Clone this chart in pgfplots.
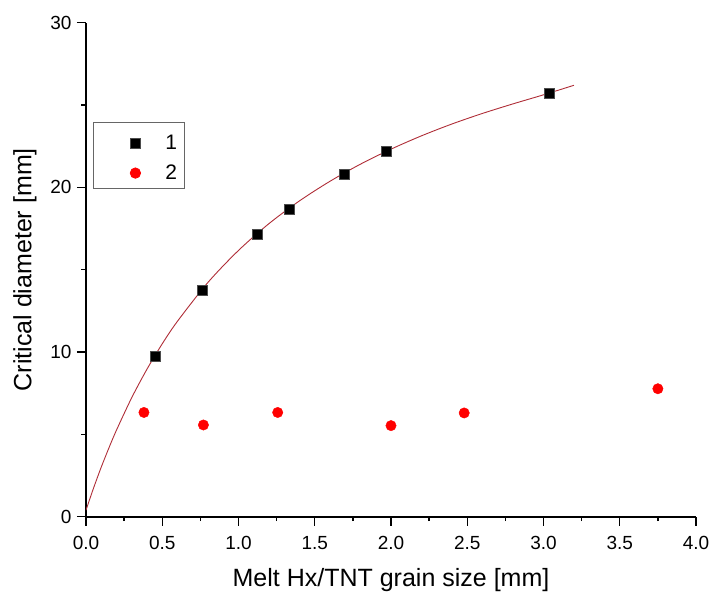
\documentclass[border=0pt]{standalone}
\usepackage{pgfplots}
\pgfplotsset{compat=1.18}
\usepackage{fontspec}
\setmainfont{Liberation Sans}
\definecolor{fitred}{RGB}{175,45,55}
\begin{document}
\begin{tikzpicture}
\begin{axis}[
  scale only axis, width=610pt, height=494pt,
  anchor=origin, at={(0pt,0pt)},
  xmin=0, xmax=4, ymin=0, ymax=30,
  axis lines*=left,
  xtick={0,0.5,1,1.5,2,2.5,3,3.5,4}, minor x tick num=1,
  ytick={0,10,20,30}, minor y tick num=1,
  /pgf/number format/assume math mode=true,
  tick align=outside, major tick length=9pt, minor tick length=4.5pt,
  every tick/.style={black, line width=1.3pt},
  axis line style={line width=1.8pt},
  tick label style={font=\fontsize{19}{22}\selectfont},
  xticklabel style={yshift=-7pt, /pgf/number format/fixed, /pgf/number format/fixed zerofill, /pgf/number format/precision=1},
  yticklabel style={xshift=-2pt},
  label style={font=\fontsize{25}{30}\selectfont},
  xlabel={Melt Hx/TNT grain size [mm]},
  xlabel style={at={(axis description cs:0.5,0)}, anchor=base, yshift=-70pt},
  ylabel={Critical diameter [mm]},
  ylabel style={at={(axis description cs:0,0.5)}, anchor=center, yshift=61pt},
  legend style={at={(rel axis cs:0.0115,0.7996)}, anchor=north west, draw=black!60, line width=0.8pt,
    font=\fontsize{21}{25}\selectfont, inner xsep=0pt, inner ysep=3pt, row sep=0pt,
    nodes={inner xsep=0pt, inner ysep=0pt}},
  legend cell align=left,
  legend image code/.code={\pgfpathrectangle{\pgfpoint{0pt}{-12pt}}{\pgfpoint{72pt}{30pt}}\pgfusepath{use as bounding box}\draw[#1] plot coordinates {(42pt,0pt)};},
]
\addplot[no marks, color=fitred, line width=0.9pt, smooth, forget plot] coordinates {
(0,0.40) (0.05,1.75) (0.1,3.01) (0.15,4.17) (0.2,5.26) (0.3,7.23) (0.4,8.96) (0.5,10.50)
(0.6,11.87) (0.8,14.23) (1.0,16.17) (1.2,17.80) (1.4,19.18) (1.6,20.37) (1.8,21.41)
(2.0,22.32) (2.2,23.13) (2.4,23.85) (2.6,24.49) (2.8,25.07) (3.0,25.62) (3.2,26.20)};
\addplot[only marks, mark=square*, mark size=5pt, mark options={fill=black, draw=black!70, line width=0.4pt}] coordinates {
(0.456,9.75) (0.76,13.78) (1.12,17.15) (1.33,18.68) (1.69,20.77) (1.97,22.2) (3.04,25.72)};
\addlegendentry{\makebox[19pt][l]{1}}
\addplot[only marks, mark=*, mark size=5.2pt, color=red, mark options={fill=red, draw=red}] coordinates {
(0.38,6.33) (0.77,5.57) (1.257,6.33) (2.0,5.53) (2.48,6.3) (3.75,7.77)};
\addlegendentry{\makebox[19pt][l]{2}}
\end{axis}
\pgfresetboundingbox
\path (-86pt,-76.3pt) rectangle (624pt,516.7pt);
\end{tikzpicture}
\end{document}
